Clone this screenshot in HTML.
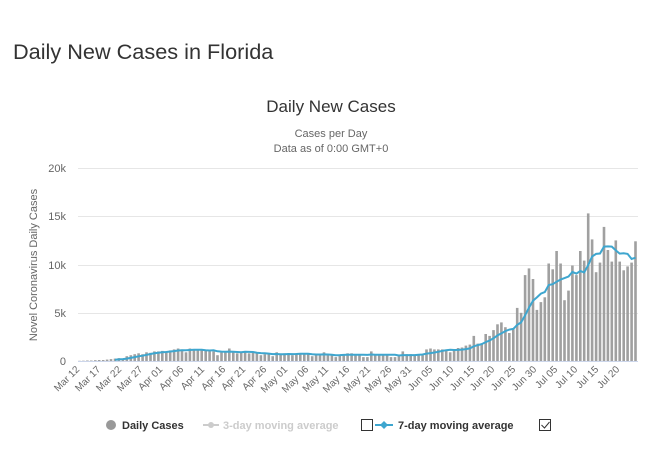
<!DOCTYPE html>
<html><head><meta charset="utf-8"><style>
body{margin:0;background:#fff;width:660px;height:451px;overflow:hidden;font-family:"Liberation Sans",sans-serif}
</style></head><body>
<svg id="s" width="660" height="451" xmlns="http://www.w3.org/2000/svg" font-family="Liberation Sans, sans-serif">
<text x="13" y="59" font-size="21.7" fill="#333">Daily New Cases in Florida</text>
<text x="331" y="112" font-size="17" fill="#333" text-anchor="middle">Daily New Cases</text>
<text x="331" y="137" font-size="11" fill="#666" text-anchor="middle">Cases per Day</text>
<text x="331" y="152" font-size="11" fill="#666" text-anchor="middle">Data as of 0:00 GMT+0</text>
<g stroke="#e6e6e6" stroke-width="1">
<line x1="78" x2="638" y1="168.5" y2="168.5"/><line x1="78" x2="638" y1="216.5" y2="216.5"/>
<line x1="78" x2="638" y1="265.5" y2="265.5"/><line x1="78" x2="638" y1="313.5" y2="313.5"/>
</g>
<g font-size="11" fill="#666" text-anchor="end">
<text x="66" y="172">20k</text><text x="66" y="220">15k</text><text x="66" y="269">10k</text><text x="66" y="317">5k</text><text x="66" y="365">0</text>
</g>
<text transform="translate(37,265) rotate(-90)" font-size="11" fill="#666" text-anchor="middle">Novel Coronavirus Daily Cases</text>
<g id="bars" fill="#a0a0a0"></g>
<line x1="78" x2="638" y1="361.5" y2="361.5" stroke="#ccd6eb"/>
<polyline id="ma" fill="none" stroke="#3ea6cf" stroke-width="2"/>
<g id="xl" font-size="10" fill="#666" text-anchor="end">
<text transform="translate(80,370) rotate(-45)">Mar 12</text>
<text transform="translate(101,370) rotate(-45)">Mar 17</text>
<text transform="translate(122,370) rotate(-45)">Mar 22</text>
<text transform="translate(143,370) rotate(-45)">Mar 27</text>
<text transform="translate(163,370) rotate(-45)">Apr 01</text>
<text transform="translate(184,370) rotate(-45)">Apr 06</text>
<text transform="translate(205,370) rotate(-45)">Apr 11</text>
<text transform="translate(226,370) rotate(-45)">Apr 16</text>
<text transform="translate(246,370) rotate(-45)">Apr 21</text>
<text transform="translate(267,370) rotate(-45)">Apr 26</text>
<text transform="translate(288,370) rotate(-45)">May 01</text>
<text transform="translate(309,370) rotate(-45)">May 06</text>
<text transform="translate(329,370) rotate(-45)">May 11</text>
<text transform="translate(350,370) rotate(-45)">May 16</text>
<text transform="translate(371,370) rotate(-45)">May 21</text>
<text transform="translate(392,370) rotate(-45)">May 26</text>
<text transform="translate(412,370) rotate(-45)">May 31</text>
<text transform="translate(433,370) rotate(-45)">Jun 05</text>
<text transform="translate(454,370) rotate(-45)">Jun 10</text>
<text transform="translate(475,370) rotate(-45)">Jun 15</text>
<text transform="translate(495,370) rotate(-45)">Jun 20</text>
<text transform="translate(516,370) rotate(-45)">Jun 25</text>
<text transform="translate(537,370) rotate(-45)">Jun 30</text>
<text transform="translate(558,370) rotate(-45)">Jul 05</text>
<text transform="translate(578,370) rotate(-45)">Jul 10</text>
<text transform="translate(599,370) rotate(-45)">Jul 15</text>
<text transform="translate(620,370) rotate(-45)">Jul 20</text>
</g>
<circle cx="111" cy="425" r="5" fill="#999"/>
<text x="122" y="429" font-size="11" font-weight="bold" fill="#333">Daily Cases</text>
<line x1="203" x2="219" y1="425" y2="425" stroke="#ccc" stroke-width="2"/><circle cx="211" cy="425" r="3" fill="#ccc"/>
<text x="223" y="429" font-size="11" font-weight="bold" fill="#ccc">3-day moving average</text>
<rect x="361.5" y="419.5" width="11" height="11" fill="none" stroke="#333"/>
<line x1="375" x2="393" y1="425" y2="425" stroke="#3ea6cf" stroke-width="2"/><path d="M384 421l4 4-4 4-4-4z" fill="#3ea6cf"/>
<text x="398" y="429" font-size="11" font-weight="bold" fill="#333">7-day moving average</text>
<rect x="539.5" y="419.5" width="11" height="11" fill="none" stroke="#333"/>
<path d="M541.5 425l3 3 5-6" fill="none" stroke="#333"/>
</svg>
<script>
var d=[0.02,0.03,0.05,0.05,0.08,0.1,0.1,0.15,0.2,0.25,0.3,0.25,0.5,0.6,0.7,0.8,0.7,0.9,0.85,1.0,1.0,1.05,1.0,1.1,1.2,1.3,1.2,0.9,1.3,1.1,1.2,1.1,1.05,1.0,1.0,0.6,0.9,1.0,1.3,0.9,0.8,0.9,0.9,0.8,0.9,0.8,0.6,0.7,0.7,0.5,0.9,0.7,0.8,0.8,0.6,0.8,0.7,0.8,0.7,0.5,0.6,0.6,0.9,0.6,0.6,0.4,0.6,0.7,0.8,0.8,0.7,0.6,0.4,0.4,1.0,0.7,0.7,0.7,0.6,0.4,0.4,0.5,1.0,0.7,0.7,0.6,0.6,0.6,1.2,1.3,1.2,1.2,1.2,1.1,0.9,1.1,1.35,1.4,1.6,1.7,2.6,1.8,1.8,2.8,2.6,3.2,3.8,4.0,3.5,2.9,3.3,5.5,5.0,8.9,9.6,8.5,5.3,6.1,6.6,10.1,9.5,11.4,10.1,6.3,7.3,9.9,8.9,11.4,10.4,15.3,12.6,9.2,10.2,13.9,11.5,10.3,12.5,10.3,9.4,9.8,10.2,12.4];
var x0=79.5,x1=635.5,dx=(x1-x0)/(d.length-1),y0=361,k=193/20,b="",p=[];
for(var i=0;i<d.length;i++){var h=d[i]*k,x=x0+i*dx;b+='<rect x="'+(x-1.3).toFixed(1)+'" y="'+(y0-h).toFixed(1)+'" width="2.6" height="'+h.toFixed(1)+'"/>';
if(i>=9){var s=0;for(var j=i-6;j<=i;j++)s+=d[j];p.push(x.toFixed(1)+','+(y0-s/7*k).toFixed(1));}}
document.getElementById('bars').innerHTML=b;document.getElementById('ma').setAttribute('points',p.join(' '));
</script>
</body></html>
